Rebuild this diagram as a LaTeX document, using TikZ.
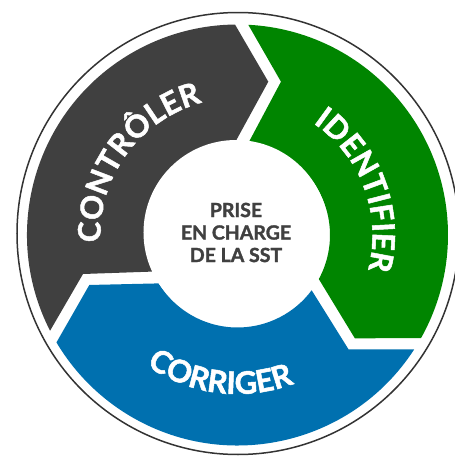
\documentclass[tikz,border=0pt]{standalone}
\usepackage{fontspec}
\setmainfont{Lato}[BoldFeatures={FakeBold=1.6}]
\usetikzlibrary{decorations.text}

\definecolor{ctrlgray}{RGB}{64,64,64}
\definecolor{idgreen}{RGB}{0,133,0}
\definecolor{corblue}{RGB}{0,112,175}
\definecolor{coretext}{RGB}{64,64,64}
\definecolor{rimline}{RGB}{51,51,51}

% one arrow segment of the ring, head at the top
\newcommand{\segpath}{(207.06:210.5) arc[start angle=207.06, end angle=90.68, radius=210.5]
  -- (30.8,153.3) -- (91.55:92.5) arc[start angle=91.55, end angle=203.3, radius=92.5]
  -- (-154.5,-39.0) -- cycle}
\newcommand{\segfont}{\bfseries\fontsize{31}{31}\selectfont}

\begin{document}
\begin{tikzpicture}[x=1pt, y=1pt, thick, nodes = {align = center}]

  \tikzstyle{core}=[circle, fill=white, minimum size=185pt, inner sep=0pt, text=coretext, font=\bfseries\fontsize{19.5}{22.5}\selectfont]
  \tikzstyle{band}=[decorate, decoration={text along path, text align=center, text color=white}]

  \useasboundingbox (-237.5,-221) rectangle (217.5,235);

  \draw[rimline, line width=1.5pt] (0.5,1.5) circle (221);

  \fill[ctrlgray] \segpath;
  \fill[idgreen, rotate=-120] \segpath;
  \fill[corblue, rotate=120] \segpath;

  \node[core] (core) at (-1.5,2.5) {PRISE\\EN CHARGE\\DE LA SST};

  \path[band, decoration={text={|\segfont|CONTRÔLER}}] (214:137) arc[start angle=214, end angle=74, radius=137];
  \path[band, decoration={text={|\segfont|IDENTIFIER}}] (90:135) arc[start angle=90, end angle=-49, radius=135];
  \path[band, decoration={text={|\segfont|CORRIGER}}] (-167:159) arc[start angle=-167, end angle=-27, radius=159];

\end{tikzpicture}
\end{document}
